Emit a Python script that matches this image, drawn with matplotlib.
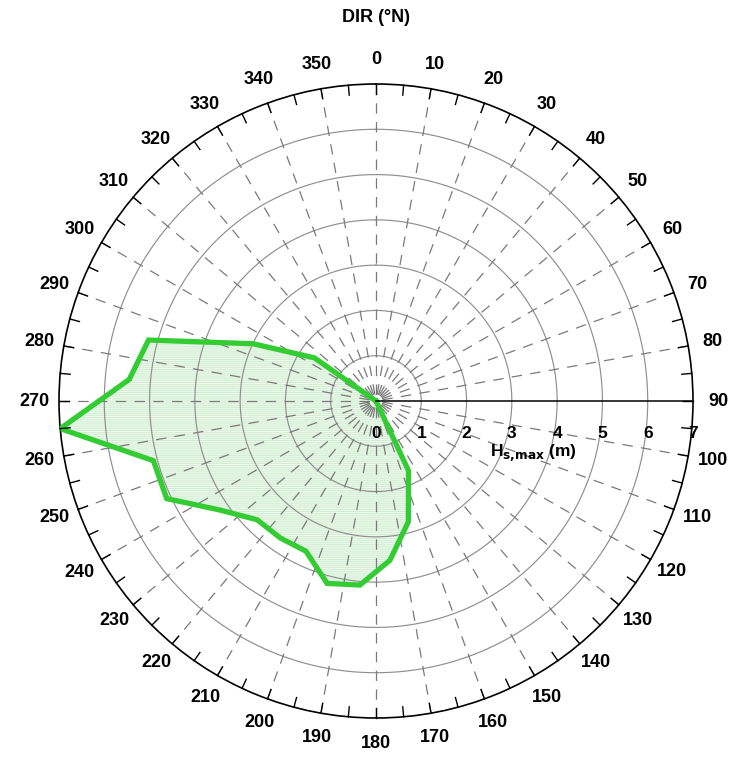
import numpy as np
import matplotlib
matplotlib.use("Agg")
import matplotlib.pyplot as plt

# Maximum significant wave height per 10-degree direction sector
directions_deg = list(range(5, 360, 10))
hs_max = [0, 0, 0, 0, 0, 0, 0, 0, 0, 0, 0, 0, 0, 0, 0,
          1.70, 2.76, 3.53, 4.08, 4.17, 3.66, 3.69, 3.71, 4.20,
          5.10, 5.09, 7.00, 5.47, 5.20, 2.99, 1.66,
          0, 0, 0, 0, 0]
dir_labels = [str(d) for d in range(0, 360, 10)]
radial_ticks = [0, 1, 2, 3, 4, 5, 6, 7]
r_max = 7

plt.rcParams['lines.scale_dashes'] = False
plt.rcParams['hatch.linewidth'] = 0.6
font_fam = ['Liberation Sans Narrow', 'Liberation Sans', 'DejaVu Sans']

W, H = 732, 758
fig = plt.figure(figsize=(W / 100, H / 100), dpi=100)
cx, cy, R = 376, 401, 317
ax = fig.add_axes([(cx - R) / W, (H - cy - R) / H, 2 * R / W, 2 * R / H],
                  projection='polar')
ax.set_theta_zero_location('N')
ax.set_theta_direction(-1)
ax.set_ylim(0, r_max)
ax.grid(False)
ax.set_xticks([])
ax.set_yticks([])
ax.spines['polar'].set_color('black')
ax.spines['polar'].set_linewidth(1.2)

full = np.linspace(0, 2 * np.pi, 721)
# range rings
for r in radial_ticks[1:-1]:
    ax.plot(full, np.full_like(full, r), color='#8f8f8f', lw=0.85, zorder=2)

# dashed direction spokes every 10 degrees, drawn from the rim inwards
for d in range(0, 360, 10):
    if d == 90:
        continue
    t = np.deg2rad(d)
    ax.plot([t, t], [r_max, 0], color='#7a7a7a', lw=0.9,
            dashes=(7.5, 6), zorder=2)

# solid radial axis along 90 degrees
ax.plot([np.pi / 2, np.pi / 2], [0, r_max], color='black', lw=1.1, zorder=4)

# rim ticks every 5 degrees
for d in range(0, 360, 5):
    t = np.deg2rad(d)
    ax.plot([t, t], [r_max, r_max - 0.22], color='black', lw=1.0,
            zorder=4, clip_on=False)

# sector polygon
theta = np.deg2rad(directions_deg + directions_deg[:1])
vals = hs_max + hs_max[:1]
ax.fill(theta, vals, facecolor='#edf9ed', edgecolor='#cdeccd',
        hatch='--------', lw=0, zorder=1)
ax.plot(theta, vals, color='#33cc33', lw=3.8, solid_joinstyle='miter',
        zorder=3)

# direction labels
lab_r = 342 / (R / r_max)
for d, lab in zip(range(0, 360, 10), dir_labels):
    ax.text(np.deg2rad(d), lab_r, lab, ha='center', va='center',
            fontsize=13, fontweight='bold', family=font_fam, clip_on=False)

# radial scale labels under the 90-degree axis
for r in radial_ticks:
    ax.annotate(str(r), xy=(np.pi / 2, r), xytext=(0, -32),
                textcoords='offset pixels', ha='center', va='center',
                fontsize=12.5, fontweight='bold', family=font_fam,
                annotation_clip=False, zorder=5)
ax.annotate(r'H$_\mathbf{s{,}max}$ (m)', xy=(np.pi / 2, (533 - cx) / (R / r_max)),
            xytext=(0, -52), textcoords='offset pixels', ha='center',
            va='center', fontsize=12.5, fontweight='bold', family=font_fam,
            annotation_clip=False, zorder=5)

fig.text(cx / W, 1 - 18 / H, 'DIR (°N)', ha='center', va='center',
         fontsize=13, fontweight='bold', family=font_fam)

fig.savefig('out.png', dpi=100, facecolor='white')
